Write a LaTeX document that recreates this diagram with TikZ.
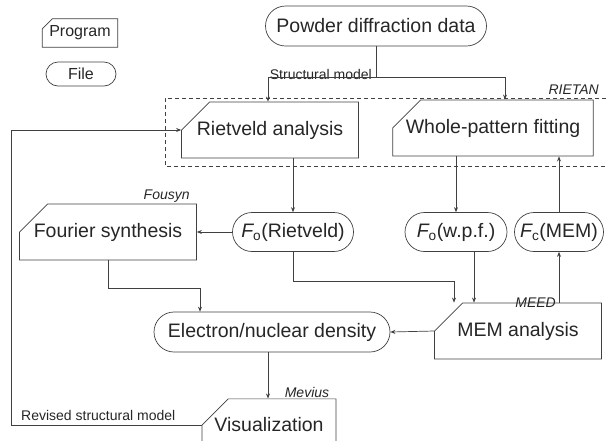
\documentclass[tikz,border=0pt]{standalone}
\usepackage{fontspec}
\setmainfont{Liberation Sans}
\usetikzlibrary{arrows.meta, shapes.misc, calc}

\newcommand\boxfont{\fontsize{19.5}{22}\selectfont}
\newcommand\labfont{\fontsize{14}{16}\selectfont}
\newcommand\keyfont{\fontsize{16}{18}\selectfont}

\begin{document}
\begin{tikzpicture}[x=1pt, y=-1pt, >={Stealth[length=5pt, width=4pt]},
    line/.style = {draw=black!75, line width=0.7pt},
    prog/.style = {chamfered rectangle, chamfered rectangle corners=north west,
      chamfered rectangle xsep=17pt, chamfered rectangle ysep=17pt,
      draw=black!75, line width=0.7pt, inner sep=2pt, text=black!85, font=\boxfont},
    file/.style = {rounded rectangle, draw=black!75, line width=0.7pt, inner sep=2pt,
      text=black!85, font=\boxfont},
    lbl/.style = {inner sep=1pt, text=black!85, font=\labfont}]
    \useasboundingbox (0,0) rectangle (607,440);
    % legend
    \node[prog, chamfered rectangle xsep=5pt, chamfered rectangle ysep=5pt, minimum width=73pt, minimum height=20pt, font=\keyfont] (keyprog) at (80,33) {Program};
    \node[file, minimum width=74pt, minimum height=24pt, font=\keyfont] (keyfile) at (81,74) {File};
    % RIETAN frame
    \draw[line, dash pattern=on 4pt off 3pt] (620,98) -- (165,98) -- (165,166) -- (620,166);
    \node[lbl, anchor=south east, font=\labfont\itshape] at (600,96) {RIETAN};
    % boxes
    \node[file, minimum width=225pt, minimum height=40pt] (pdd) at (376,26) {Powder diffraction data};
    \node[prog, minimum width=177pt, minimum height=41pt] (riet) at (270,130) {Rietveld analysis};
    \node[prog, minimum width=200pt, minimum height=41pt] (wpf) at (493,128) {Whole-pattern fitting};
    \node[prog, minimum width=177pt, minimum height=40pt] (fsyn) at (108,232) {Fourier synthesis};
    \node[file, minimum width=125pt, minimum height=39pt] (foR) at (293,232) {{\itshape F}\textsubscript{o}(Rietveld)};
    \node[file, minimum width=106pt, minimum height=39pt] (foW) at (456,232) {{\itshape F}\textsubscript{o}(w.p.f.)};
    \node[file, minimum width=93pt, minimum height=39pt] (fcM) at (559,232) {{\itshape F}\textsubscript{c}(MEM)};
    \node[file, minimum width=240pt, minimum height=40pt] (dens) at (272,332) {Electron/nuclear density};
    \node[prog, minimum width=167pt, minimum height=39pt] (mem) at (518,331) {MEM analysis};
    \node[prog, minimum width=134pt, minimum height=44pt] (vis) at (269,425) {Visualization};
    % program names
    \node[lbl, anchor=south east, font=\labfont\itshape] at ([xshift=-6]fsyn.north east) {Fousyn};
    \node[lbl, anchor=south east, font=\labfont\itshape] at (557,309) {MEED};
    \node[lbl, anchor=south east, font=\labfont\itshape] at ([xshift=-6]vis.north east) {Mevius};
    % connectors
    \coordinate (split) at ($(pdd.south)+(0,31)$);
    \coordinate (memA) at ([xshift=-64]mem.north); \coordinate (memB) at ([xshift=-44]mem.north);
    \coordinate (densA) at ([xshift=-72]dens.north);
    \draw[line] (pdd.south) -- (split);
    \node[lbl, anchor=south east] at ([xshift=-3,yshift=-3]split) {Structural model};
    \draw[line, ->] (split) -| ([xshift=-2]riet.north);
    \draw[line, ->] (split) -| ([xshift=12]wpf.north);
    \draw[line, ->] (riet.south -| foR.north) -- (foR.north);
    \draw[line, ->] (wpf.south -| foW.north) -- (foW.north);
    \draw[line, ->] (fcM.north) -- (fcM.north |- wpf.south);
    \draw[line, ->] (foR.west) -- (fsyn.east);
    \draw[line, ->] (foR.south) -- ++(0,29) -| (memA);
    \draw[line, ->] (foW.south -| memB) -- (memB);
    \draw[line, ->] (fsyn.south) -- ++(0,28) -| (densA);
    \draw[line, ->] (fcM.south |- mem.north) -- (fcM.south);
    \draw[line, ->] (mem.west) -- (dens.east);
    \draw[line, ->] ([xshift=-4]dens.south) -- ([xshift=-4]dens.south |- vis.north);
    \draw[line, ->] (vis.west) -| ($(riet.west)+(-170,0)$) -- (riet.west);
    \node[lbl, anchor=south west] at (20,422) {Revised structural model};
\end{tikzpicture}
\end{document}
